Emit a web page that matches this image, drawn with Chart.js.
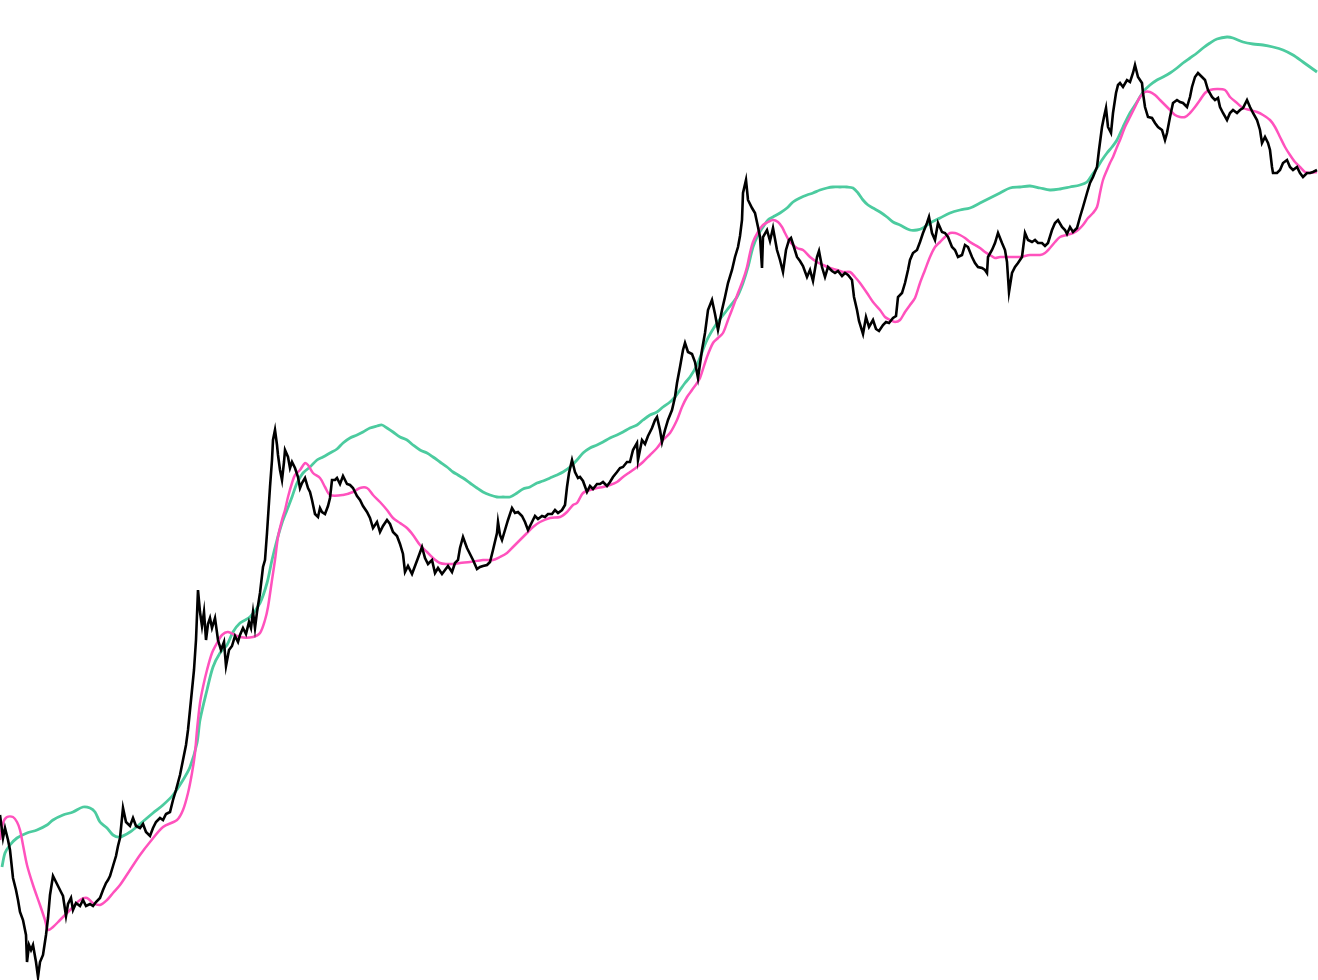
<!DOCTYPE html>
<html>
<head>
<meta charset="utf-8">
<title>Price with moving averages</title>
<script src="https://cdn.jsdelivr.net/npm/chart.js@4/dist/chart.umd.min.js"></script>
<style>
  html, body { margin: 0; padding: 0; background: #fff; }
  #wrap { width: 1318px; height: 980px; }
</style>
</head>
<body>
<div id="wrap"><canvas id="priceChart" width="1318" height="980"></canvas></div>
<script>
// Price (black)
const priceX = [0,3,5,8,10,13,16,18,20,23,26,27,29,31,33,36,38,40,43,46,48,50,53,56,58,61,63,66,68,71,73,76,80,83,86,90,93,96,100,103,106,108,110,113,116,118,120,123,126,130,133,136,140,143,146,150,153,156,160,163,166,170,173,176,180,183,186,188,190,192,194,196,198,200,202,204,206,208,210,212,215,218,221,224,226,229,232,235,238,240,243,246,249,251,253,255,257,260,263,265,267,270,272,273,275,277,278,280,282,284,285,288,290,292,295,298,300,302,305,308,310,312,315,318,320,322,325,328,330,332,335,337,340,343,347,350,353,357,360,363,367,370,373,377,380,383,387,390,393,397,400,403,405,408,412,415,418,422,425,428,432,435,438,442,445,448,452,455,458,460,463,467,470,473,477,480,483,487,490,493,497,498,500,502,505,508,512,515,518,522,525,528,532,535,538,542,545,548,552,555,558,562,565,567,569,572,575,578,580,583,587,590,593,597,600,603,607,610,613,617,620,623,627,630,633,637,638,642,645,648,652,655,657,660,662,665,668,672,675,677,680,683,685,688,692,695,698,702,705,708,712,715,718,722,725,728,732,735,738,740,742,743,746,748,752,755,758,760,762,763,767,770,773,777,780,783,786,789,791,793,797,800,803,807,810,813,817,819,822,825,828,832,835,838,842,845,848,852,854,857,859,863,866,869,873,876,879,883,886,889,893,896,898,902,905,908,910,913,917,920,923,927,929,932,935,938,942,945,948,952,955,958,962,965,968,972,975,978,982,985,987,988,992,995,998,1002,1005,1007,1009,1012,1015,1018,1022,1025,1028,1032,1035,1038,1042,1045,1048,1052,1055,1058,1062,1065,1067,1070,1073,1077,1080,1083,1087,1090,1093,1097,1099,1102,1104,1106,1108,1111,1113,1116,1118,1120,1123,1127,1130,1133,1135,1138,1142,1143,1145,1148,1152,1155,1158,1162,1165,1167,1170,1173,1177,1180,1183,1187,1190,1192,1195,1198,1202,1205,1208,1212,1215,1218,1220,1223,1227,1230,1233,1237,1240,1243,1247,1250,1253,1257,1260,1262,1265,1268,1270,1272,1273,1277,1280,1283,1287,1290,1293,1297,1300,1303,1307,1310,1313,1317];
const priceY = [165,142,152,140,130,102,90,80,68,60,45,18,35,30,35,18,3,18,25,45,62,85,104,98,94,88,84,64,76,82,70,77,74,80,74,76,74,78,82,90,97,100,104,114,124,134,142,172,158,154,162,154,152,156,148,144,152,158,162,160,166,168,180,190,205,220,235,250,270,290,310,340,390,368,354,368,340,356,362,352,362,340,330,338,314,330,334,344,338,345,352,346,358,352,368,352,368,387,413,420,447,493,520,540,550,535,525,510,500,518,530,523,512,518,512,503,492,497,502,492,488,480,466,463,472,468,466,474,482,500,500,502,496,504,496,495,492,484,480,474,468,462,452,458,448,454,460,456,448,444,436,426,408,414,406,414,422,433,422,416,420,407,412,406,410,414,408,417,420,432,443,432,426,420,411,413,414,415,418,430,447,458,445,440,450,460,472,467,468,464,458,450,458,464,461,464,463,466,466,470,467,470,475,493,507,520,508,502,503,499,488,494,491,496,496,498,494,498,503,508,512,513,518,518,530,537,520,540,536,544,552,560,563,550,538,550,560,570,583,597,613,630,637,628,626,618,602,630,647,670,680,666,650,670,683,697,710,723,733,744,760,787,800,780,772,767,753,743,712,743,750,739,752,730,720,708,730,740,742,736,723,719,714,703,710,699,723,729,713,703,713,709,707,709,704,707,705,700,683,670,659,646,663,653,660,651,649,655,658,657,662,664,683,687,697,710,720,727,730,738,747,757,763,747,740,757,748,747,743,733,730,723,725,735,733,723,717,713,712,710,707,723,730,737,747,737,730,718,688,707,713,717,723,747,740,738,740,737,737,734,737,750,757,760,753,750,746,753,748,752,763,773,787,797,803,813,830,853,863,872,853,847,867,887,895,897,893,900,898,907,915,903,897,887,873,863,862,857,853,850,840,847,863,877,880,878,877,873,883,893,903,907,903,900,890,883,880,882,873,867,860,867,870,867,870,872,880,873,867,860,850,837,843,837,830,813,807,807,810,817,820,813,810,813,807,803,807,807,808,810];

// Short moving average (pink)
const fastX = [0,3,7,13,17,20,23,27,33,40,45,48,53,60,67,73,80,87,93,100,107,113,120,130,140,150,163,177,183,188,192,195,197,200,203,207,212,217,222,228,240,253,260,265,268,272,275,278,282,285,288,292,295,300,305,308,313,320,325,330,343,353,360,367,373,380,387,393,400,407,413,420,427,433,440,447,453,460,470,483,493,500,507,513,520,527,533,540,550,560,567,573,577,583,590,597,603,610,617,623,630,637,643,650,657,663,670,677,682,687,692,697,700,707,713,718,723,728,733,738,743,747,750,753,758,763,768,773,778,782,785,790,797,803,810,817,823,830,837,843,850,855,860,867,873,880,885,890,895,900,905,910,915,920,925,930,935,940,945,950,955,960,965,970,975,980,985,990,995,1000,1010,1020,1030,1040,1045,1050,1055,1060,1067,1073,1078,1083,1088,1093,1097,1100,1103,1107,1110,1113,1117,1120,1125,1130,1135,1140,1145,1150,1155,1160,1165,1170,1175,1180,1185,1190,1195,1200,1205,1210,1217,1225,1230,1237,1243,1250,1257,1263,1270,1275,1280,1285,1290,1295,1300,1305,1310,1317];
const fastY = [140,157,163,163,158,150,135,115,95,75,60,50,53,60,67,73,80,82,77,75,80,87,95,110,125,138,153,160,170,187,207,227,250,277,293,310,327,337,345,348,343,343,347,360,373,400,420,443,460,470,483,497,505,510,517,515,507,502,493,485,485,488,492,492,485,478,470,462,457,452,445,435,428,422,417,416,416,417,418,420,420,423,427,433,440,447,453,458,462,463,468,475,477,487,490,492,493,495,498,503,508,513,518,525,532,540,547,560,573,583,590,597,602,623,637,642,647,660,673,687,700,713,727,738,748,755,758,760,758,753,747,738,732,730,723,718,715,712,710,708,708,703,697,687,678,670,663,660,658,660,668,675,682,697,710,723,733,738,743,747,747,745,742,738,735,732,728,725,722,723,723,723,725,725,727,732,738,743,745,747,750,755,762,767,773,787,800,810,817,823,833,840,853,863,873,883,888,888,885,880,875,870,865,863,863,867,873,880,887,890,891,890,883,877,872,870,868,865,860,853,843,833,825,818,813,808,807,808];

// Long moving average (green)
const slowX = [2,5,10,17,27,37,47,53,63,73,83,90,95,100,107,113,120,130,140,153,163,173,183,190,197,200,207,213,220,227,233,240,250,260,267,272,277,282,287,292,297,303,310,317,323,330,337,343,350,357,363,370,377,382,387,393,400,407,413,420,427,433,440,447,453,458,463,470,477,483,490,497,503,510,517,523,530,537,543,550,557,563,570,577,583,590,597,603,610,617,623,630,637,643,650,657,663,670,675,680,685,690,697,707,717,727,737,743,748,753,758,763,768,773,780,787,793,800,807,813,820,827,833,840,847,853,858,863,868,873,880,887,893,900,910,917,923,930,940,950,960,970,980,990,1000,1010,1020,1030,1040,1050,1060,1070,1080,1087,1092,1097,1102,1107,1112,1117,1123,1130,1137,1143,1150,1157,1163,1170,1177,1183,1190,1197,1203,1210,1217,1227,1233,1243,1253,1263,1273,1283,1293,1303,1310,1317];
const slowY = [113,127,135,142,147,150,155,160,165,168,173,172,168,158,152,145,143,148,156,167,175,185,200,213,237,260,290,313,327,335,348,357,363,377,397,420,440,457,470,483,497,507,513,520,523,527,531,537,542,545,548,552,554,555,552,548,543,540,535,530,527,523,518,513,508,505,502,497,492,488,485,483,483,483,487,491,493,497,499,502,505,508,513,520,527,532,535,538,542,545,548,552,555,560,565,568,573,578,583,590,597,603,615,640,657,670,683,697,713,733,745,753,760,763,767,772,778,782,785,787,790,792,793,793,793,792,787,780,775,772,768,763,758,755,750,750,752,757,762,767,770,772,777,782,787,792,793,794,792,790,791,793,795,798,805,812,820,827,833,840,853,867,878,888,895,900,903,907,912,917,922,927,932,937,941,943,942,938,936,935,933,930,925,918,913,908];

function toPoints(xs, ys) {
  return xs.map((x, i) => ({ x: x, y: ys[i] }));
}

const ctx = document.getElementById('priceChart').getContext('2d');

new Chart(ctx, {
  type: 'line',
  data: {
    datasets: [
      {
        label: 'Price',
        data: toPoints(priceX, priceY),
        borderColor: '#000000',
        borderWidth: 2.6,
        pointRadius: 0,
        tension: 0,
        order: 0,
      },
      {
        label: 'Short MA',
        data: toPoints(fastX, fastY),
        borderColor: '#ff52bd',
        borderWidth: 2.5,
        pointRadius: 0,
        tension: 0.3,
        order: 1,
      },
      {
        label: 'Long MA',
        data: toPoints(slowX, slowY),
        borderColor: '#4ccb9f',
        borderWidth: 2.8,
        pointRadius: 0,
        tension: 0.3,
        order: 2,
      },
    ],
  },
  options: {
    responsive: false,
    animation: false,
    layout: { padding: 0 },
    plugins: {
      legend: { display: false },
      tooltip: { enabled: false },
    },
    scales: {
      x: { type: 'linear', min: 0, max: 1318, display: false },
      y: { min: 0, max: 980, display: false },
    },
  },
});
</script>
</body>
</html>
